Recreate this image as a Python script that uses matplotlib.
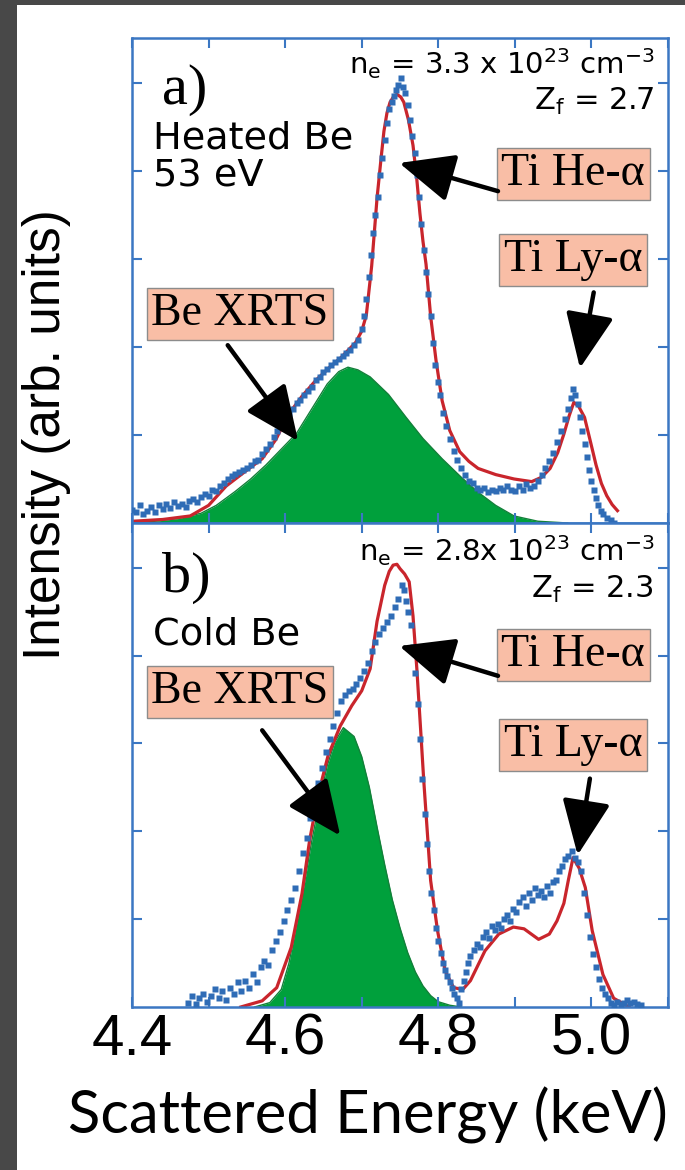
import numpy as np
import matplotlib
matplotlib.use('Agg')
import matplotlib.pyplot as plt
from matplotlib.patches import Rectangle
from matplotlib.ticker import FixedLocator, FixedFormatter

# ---------------- data ----------------
x_ticks = [4.4, 4.5, 4.6, 4.7, 4.8, 4.9, 5.0, 5.1]
x_tick_labels = ['4.4', '', '4.6', '', '4.8', '', '5.0', '']
y_ticks = [1, 2, 3, 4, 5]

# Panel a) heated Be : fit (red)
a_fit_x = [4.401, 4.440, 4.476, 4.500, 4.523, 4.547, 4.570, 4.588, 4.604, 4.622,
           4.640, 4.657, 4.673, 4.692, 4.700, 4.706, 4.713, 4.720, 4.725, 4.729,
           4.733, 4.737, 4.742, 4.746, 4.751, 4.755, 4.761, 4.767, 4.772, 4.776,
           4.780, 4.784, 4.790, 4.797, 4.805, 4.815, 4.828, 4.840, 4.852, 4.875,
           4.899, 4.922, 4.935, 4.946, 4.956, 4.964, 4.971, 4.977, 4.983, 4.991,
           4.998, 5.006, 5.013, 5.020, 5.027, 5.034]
a_fit_y = [0.02, 0.04, 0.08, 0.20, 0.42, 0.58, 0.73, 0.95, 1.23, 1.44,
           1.62, 1.76, 1.88, 2.05, 2.18, 2.36, 2.92, 3.69, 4.12, 4.45,
           4.66, 4.78, 4.85, 4.87, 4.84, 4.78, 4.58, 4.29, 3.90, 3.52,
           3.20, 2.94, 2.35, 1.85, 1.39, 1.05, 0.81, 0.70, 0.62, 0.55,
           0.50, 0.47, 0.52, 0.62, 0.80, 1.01, 1.22, 1.37, 1.33, 1.20,
           0.95, 0.66, 0.45, 0.31, 0.21, 0.14]

# Panel a) Be XRTS component (green)
a_be_x = [4.401, 4.430, 4.460, 4.490, 4.510, 4.535, 4.555, 4.575, 4.595, 4.615,
          4.635, 4.655, 4.670, 4.682, 4.695, 4.711, 4.735, 4.758, 4.780, 4.805,
          4.830, 4.852, 4.875, 4.899, 4.930, 4.969]
a_be_y = [0.00, 0.02, 0.05, 0.11, 0.20, 0.36, 0.50, 0.66, 0.84, 1.02,
          1.30, 1.58, 1.72, 1.77, 1.74, 1.66, 1.46, 1.20, 0.96, 0.73,
          0.52, 0.35, 0.20, 0.08, 0.02, 0.00]

# Panel a) measured spectrum (blue)
a_data_x = [4.400, 4.405, 4.410, 4.415, 4.420, 4.425, 4.430, 4.435, 4.440, 4.445,
            4.450, 4.455, 4.460, 4.465, 4.470, 4.475, 4.480, 4.485, 4.490, 4.495,
            4.500, 4.505, 4.510, 4.515, 4.520, 4.525, 4.530, 4.535, 4.540, 4.545,
            4.550, 4.555, 4.560, 4.565, 4.570, 4.575, 4.580, 4.585, 4.590, 4.595,
            4.600, 4.605, 4.610, 4.615, 4.620, 4.625, 4.630, 4.635, 4.640, 4.645,
            4.650, 4.655, 4.660, 4.665, 4.670, 4.675, 4.680, 4.685, 4.690, 4.695,
            4.700, 4.703, 4.706, 4.709, 4.712, 4.715, 4.718, 4.721, 4.724, 4.727,
            4.730, 4.733, 4.736, 4.739, 4.742, 4.745, 4.748, 4.751, 4.754, 4.757,
            4.760, 4.763, 4.766, 4.769, 4.772, 4.775, 4.778, 4.781, 4.784, 4.787,
            4.790, 4.793, 4.796, 4.799, 4.802, 4.806, 4.810, 4.815, 4.820, 4.825,
            4.830, 4.835, 4.840, 4.845, 4.850, 4.855, 4.860, 4.865, 4.870, 4.875,
            4.880, 4.885, 4.890, 4.895, 4.900, 4.905, 4.910, 4.915, 4.920, 4.925,
            4.930, 4.935, 4.940, 4.945, 4.950, 4.955, 4.960, 4.965, 4.970, 4.973,
            4.976, 4.979, 4.982, 4.985, 4.988, 4.991, 4.994, 4.997, 5.000, 5.003,
            5.006, 5.009, 5.012, 5.015, 5.020, 5.025, 5.030]
a_data_y = [0.15, 0.12, 0.20, 0.10, 0.14, 0.18, 0.12, 0.20, 0.16, 0.22,
            0.17, 0.24, 0.19, 0.22, 0.18, 0.25, 0.27, 0.24, 0.30, 0.33,
            0.31, 0.38, 0.36, 0.42, 0.45, 0.50, 0.53, 0.56, 0.58, 0.60,
            0.62, 0.66, 0.70, 0.72, 0.78, 0.84, 0.90, 0.98, 1.05, 1.10,
            1.18, 1.24, 1.30, 1.36, 1.40, 1.45, 1.50, 1.55, 1.62, 1.66,
            1.72, 1.75, 1.80, 1.83, 1.86, 1.90, 1.93, 1.97, 2.02, 2.08,
            2.20, 2.35, 2.55, 2.80, 3.05, 3.30, 3.50, 3.70, 3.95, 4.15,
            4.35, 4.55, 4.70, 4.78, 4.85, 4.92, 4.98, 5.05, 4.95, 4.88,
            4.75, 4.58, 4.40, 4.20, 3.95, 3.70, 3.40, 3.10, 2.85, 2.60,
            2.35, 2.05, 1.80, 1.60, 1.45, 1.25, 1.10, 0.95, 0.82, 0.72,
            0.62, 0.55, 0.48, 0.45, 0.40, 0.38, 0.40, 0.35, 0.38, 0.36,
            0.40, 0.37, 0.42, 0.38, 0.36, 0.42, 0.38, 0.44, 0.40, 0.42,
            0.48, 0.55, 0.62, 0.70, 0.80, 0.92, 1.05, 1.18, 1.30, 1.42,
            1.52, 1.45, 1.35, 1.20, 1.05, 0.90, 0.75, 0.60, 0.48, 0.38,
            0.28, 0.20, 0.14, 0.10, 0.06, 0.03, 0.00]

# Panel b) cold Be : fit (red)
b_fit_x = [4.542, 4.570, 4.589, 4.608, 4.622, 4.632, 4.643, 4.656, 4.672, 4.687,
           4.700, 4.711, 4.720, 4.730, 4.736, 4.741, 4.746, 4.750, 4.756, 4.762,
           4.767, 4.772, 4.777, 4.781, 4.786, 4.790, 4.799, 4.809, 4.820, 4.832,
           4.842, 4.861, 4.879, 4.898, 4.912, 4.931, 4.945, 4.955, 4.964, 4.970,
           4.976, 4.984, 4.992, 5.001, 5.015, 5.029, 5.049]
b_fit_y = [0.00, 0.07, 0.22, 0.68, 1.29, 1.90, 2.41, 2.86, 3.20, 3.43,
           3.60, 3.85, 4.39, 4.80, 4.96, 5.03, 5.04, 4.99, 4.93, 4.84,
           4.45, 3.85, 3.15, 2.58, 1.95, 1.44, 0.87, 0.41, 0.22, 0.20,
           0.30, 0.64, 0.83, 0.91, 0.89, 0.77, 0.83, 0.98, 1.18, 1.45,
           1.70, 1.58, 1.36, 0.87, 0.37, 0.10, 0.00]

# Panel b) Be XRTS component (green)
b_be_x = [4.560, 4.580, 4.595, 4.605, 4.615, 4.625, 4.635, 4.645, 4.655, 4.665,
          4.676, 4.690, 4.700, 4.710, 4.720, 4.730, 4.740, 4.750, 4.760, 4.770,
          4.780, 4.790, 4.800, 4.815, 4.830]
b_be_y = [0.00, 0.05, 0.20, 0.50, 0.95, 1.40, 1.90, 2.35, 2.75, 3.02,
          3.18, 3.08, 2.85, 2.50, 2.05, 1.62, 1.22, 0.90, 0.62, 0.40,
          0.24, 0.13, 0.06, 0.02, 0.00]

# Panel b) measured spectrum (blue)
b_data_x = [4.473, 4.478, 4.483, 4.488, 4.493, 4.498, 4.503, 4.508, 4.513, 4.518,
            4.523, 4.528, 4.533, 4.538, 4.543, 4.548, 4.553, 4.558, 4.563, 4.568,
            4.573, 4.578, 4.583, 4.588, 4.593, 4.598, 4.603, 4.608, 4.613, 4.618,
            4.623, 4.628, 4.633, 4.638, 4.643, 4.648, 4.653, 4.658, 4.663, 4.668,
            4.673, 4.678, 4.683, 4.688, 4.693, 4.698, 4.703, 4.708, 4.713, 4.718,
            4.723, 4.728, 4.733, 4.738, 4.743, 4.748, 4.752, 4.755, 4.758, 4.761,
            4.764, 4.767, 4.770, 4.773, 4.776, 4.779, 4.782, 4.785, 4.788, 4.791,
            4.794, 4.797, 4.800, 4.803, 4.806, 4.809, 4.812, 4.815, 4.818, 4.821,
            4.824, 4.827, 4.830, 4.833, 4.836, 4.839, 4.842, 4.846, 4.850, 4.854,
            4.858, 4.862, 4.866, 4.870, 4.874, 4.878, 4.882, 4.886, 4.890, 4.894,
            4.898, 4.902, 4.906, 4.910, 4.914, 4.918, 4.922, 4.926, 4.930, 4.934,
            4.938, 4.942, 4.946, 4.950, 4.954, 4.958, 4.962, 4.966, 4.970, 4.974,
            4.978, 4.982, 4.986, 4.990, 4.994, 4.998, 5.002, 5.006, 5.010, 5.014,
            5.018, 5.022, 5.026, 5.030, 5.034, 5.038, 5.042, 5.046, 5.050, 5.055,
            5.060, 5.065]
b_data_y = [0.05, 0.12, 0.03, 0.10, 0.15, 0.06, 0.12, 0.20, 0.10, 0.18,
            0.08, 0.22, 0.15, 0.28, 0.18, 0.30, 0.22, 0.38, 0.28, 0.45,
            0.52, 0.48, 0.65, 0.75, 0.85, 0.98, 1.10, 1.22, 1.35, 1.55,
            1.75, 1.92, 2.15, 2.35, 2.55, 2.72, 2.90, 3.05, 3.20, 3.35,
            3.48, 3.55, 3.60, 3.62, 3.68, 3.75, 3.82, 3.92, 4.05, 4.15,
            4.25, 4.32, 4.38, 4.45, 4.55, 4.65, 4.80, 4.75, 4.62, 4.50,
            4.35, 4.10, 3.80, 3.45, 3.05, 2.60, 2.20, 1.85, 1.55, 1.30,
            1.10, 0.90, 0.75, 0.62, 0.50, 0.42, 0.35, 0.28, 0.22, 0.15,
            0.10, 0.05, 0.20, 0.30, 0.40, 0.50, 0.58, 0.65, 0.72, 0.68,
            0.80, 0.85, 0.78, 0.92, 0.88, 0.95, 0.90, 1.00, 1.05, 0.98,
            1.12, 1.08, 1.20, 1.25, 1.15, 1.30, 1.22, 1.35, 1.28, 1.32,
            1.25, 1.38, 1.30, 1.42, 1.45, 1.55, 1.60, 1.68, 1.72, 1.78,
            1.70, 1.65, 1.55, 1.30, 1.05, 0.80, 0.60, 0.45, 0.32, 0.22,
            0.15, 0.10, 0.05, 0.02, 0.06, 0.03, 0.05, 0.08, 0.04, 0.06,
            0.03, 0.02]

# arrows (tail -> tip), in data units
a_arrows = [((4.878, 3.77), (4.749, 4.09)),   # Ti He-alpha
            ((5.003, 2.62), (4.985, 1.76)),   # Ti Ly-alpha
            ((4.525, 2.02), (4.617, 0.93))]   # Be XRTS
b_arrows = [((4.878, 3.77), (4.749, 4.11)),
            ((4.998, 2.60), (4.982, 1.73)),
            ((4.570, 3.15), (4.672, 1.95))]

# ---------------- style ----------------
FRAME = '#3b77c3'
BLUE = '#2f6cb6'
RED = '#c9252c'
GREEN = '#00a03c'
GREEN_EDGE = '#13803a'
SALMON = '#f9bea6'
GRAY_BG = '#484848'

W, H = 685, 1170
fig = plt.figure(figsize=(W / 100, H / 100), dpi=100)
fig.patch.set_facecolor('white')
fig.patches.append(Rectangle((0, 0), 17 / W, 1, transform=fig.transFigure,
                             facecolor=GRAY_BG, edgecolor='none', zorder=0))
fig.patches.append(Rectangle((0, 1 - 5 / H), 1, 5 / H, transform=fig.transFigure,
                             facecolor=GRAY_BG, edgecolor='none', zorder=0))

left, right = 132 / W, 668 / W
ax_a = fig.add_axes([left, 1 - 523 / H, right - left, 485 / H])
ax_b = fig.add_axes([left, 1 - 1007 / H, right - left, 484 / H])

YTOP = 5.51


def style_axes(ax, show_labels):
    ax.set_xlim(4.4, 5.1)
    ax.set_ylim(0, YTOP)
    for s in ax.spines.values():
        s.set_color(FRAME)
        s.set_linewidth(1.8)
    ax.xaxis.set_major_locator(FixedLocator(x_ticks))
    if show_labels:
        ax.xaxis.set_major_formatter(FixedFormatter(x_tick_labels))
    else:
        ax.xaxis.set_major_formatter(FixedFormatter([''] * len(x_ticks)))
    ax.yaxis.set_major_locator(FixedLocator(y_ticks))
    ax.yaxis.set_major_formatter(FixedFormatter([''] * len(y_ticks)))
    ax.tick_params(axis='both', which='both', direction='in', length=7,
                   width=1.5, color=FRAME, top=True, right=True)
    ax.tick_params(axis='x', labelsize=42, pad=4)
    for lab in ax.get_xticklabels():
        lab.set_fontfamily('Liberation Sans')


def draw_panel(ax, fit_x, fit_y, be_x, be_y, data_x, data_y):
    ax.fill_between(be_x, be_y, 0, color=GREEN, lw=0, zorder=1)
    ax.plot(be_x, be_y, color=GREEN_EDGE, lw=1.0, zorder=1.5)
    ax.plot(fit_x, fit_y, color=RED, lw=2.3, zorder=2)
    ax.plot(data_x, data_y, ls='none', marker='s', ms=4.0, mec='none',
            mfc=BLUE, zorder=3)


def label_box(ax, x, y, s):
    ax.text(x, y, s, transform=ax.transAxes, ha='center', va='center',
            fontsize=33, family='Liberation Serif', zorder=6,
            bbox=dict(boxstyle='square,pad=0.1', fc=SALMON, ec='#8c8c8c', lw=1.0))


def arrows(ax, lst):
    for tail, tip in lst:
        ax.annotate('', xy=tip, xytext=tail, xycoords='data', textcoords='data',
                    zorder=7,
                    arrowprops=dict(arrowstyle='-|>,head_length=3.4,head_width=1.5',
                                    mutation_scale=10, lw=3.2, color='black',
                                    shrinkA=0, shrinkB=0))


style_axes(ax_a, False)
style_axes(ax_b, True)

draw_panel(ax_a, a_fit_x, a_fit_y, a_be_x, a_be_y, a_data_x, a_data_y)
draw_panel(ax_b, b_fit_x, b_fit_y, b_be_x, b_be_y, b_data_x, b_data_y)

# panel a texts
ax_a.text(0.056, 0.893, 'a)', transform=ax_a.transAxes, ha='left', va='center',
          fontsize=42, family='Liberation Serif')
ax_a.text(0.039, 0.773, 'Heated Be', transform=ax_a.transAxes, ha='left',
          va='baseline', fontsize=27.5, family='DejaVu Sans')
ax_a.text(0.039, 0.693, '53 eV', transform=ax_a.transAxes, ha='left',
          va='baseline', fontsize=27.5, family='DejaVu Sans')
ax_a.text(0.974, 0.948, r'n$_\mathregular{e}$ = 3.3 x 10$^\mathregular{23}$ cm$^\mathregular{-3}$',
          transform=ax_a.transAxes, ha='right', va='center', fontsize=21,
          family='DejaVu Sans')
ax_a.text(0.974, 0.870, r'Z$_\mathregular{f}$ = 2.7', transform=ax_a.transAxes,
          ha='right', va='center', fontsize=22, family='DejaVu Sans')
label_box(ax_a, 0.823, 0.720, 'Ti He-α')
label_box(ax_a, 0.823, 0.542, 'Ti Ly-α')
label_box(ax_a, 0.2015, 0.431, 'Be XRTS')
arrows(ax_a, a_arrows)

# panel b texts
ax_b.text(0.056, 0.886, 'b)', transform=ax_b.transAxes, ha='left', va='center',
          fontsize=42, family='Liberation Serif')
ax_b.text(0.039, 0.748, 'Cold Be', transform=ax_b.transAxes, ha='left',
          va='baseline', fontsize=27.5, family='DejaVu Sans')
ax_b.text(0.974, 0.942, r'n$_\mathregular{e}$ = 2.8x 10$^\mathregular{23}$ cm$^\mathregular{-3}$',
          transform=ax_b.transAxes, ha='right', va='center', fontsize=21,
          family='DejaVu Sans')
ax_b.text(0.974, 0.862, r'Z$_\mathregular{f}$ = 2.3', transform=ax_b.transAxes,
          ha='right', va='center', fontsize=22, family='DejaVu Sans')
label_box(ax_b, 0.823, 0.727, 'Ti He-α')
label_box(ax_b, 0.823, 0.541, 'Ti Ly-α')
label_box(ax_b, 0.2015, 0.651, 'Be XRTS')
arrows(ax_b, b_arrows)

# axis titles
fig.text(47 / W, 1 - 435 / H, 'Intensity (arb. units)', rotation=90,
         ha='center', va='center', fontsize=37, family='Liberation Sans')
fig.text(368 / W, 1 - 1134 / H, 'Scattered Energy (keV)', ha='center',
         va='baseline', fontsize=43, family='Lato')

fig.savefig('out.png', dpi=100)
